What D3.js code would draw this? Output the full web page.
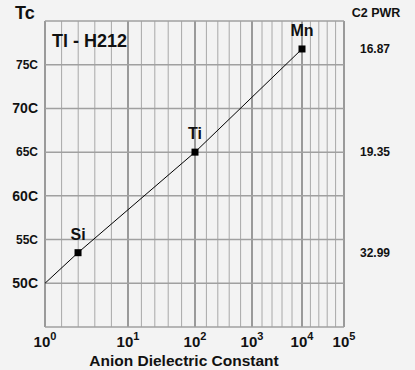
<!DOCTYPE html>
<html><head><meta charset="utf-8">
<script src="https://cdn.jsdelivr.net/npm/d3@7"></script>
<style>
html,body{margin:0;padding:0;background:#f3f3f3;}
svg{display:block;font-family:"Liberation Sans",Arial,sans-serif;font-weight:bold;}
</style></head><body>
<svg id="chart" width="415" height="370"></svg>
<script>
// ---- data ----
const elements = ["Si", "Ti", "Mn"];
const dielectric = [2.5, 100, 10000];
const tcValues = [53.5, 65, 76.8];
const c2pwr = ["32.99", "19.35", "16.87"];
const lineX = [1, 2.5, 100, 10000];
const lineY = [50, 53.5, 65, 76.8];
const decades = [0, 1, 2, 3, 4, 5];
const yTicks = [50, 55, 60, 65, 70, 75];
const yTickLabels = ["50C", "55C", "60C", "65C", "70C", "75C"];
const title = "Tl - H212";
const yTitle = "Tc";
const xTitle = "Anion Dielectric Constant";
const rightTitle = "C2 PWR";

// ---- layout ----
const svg = d3.select("#chart");
const pLeft = 45, pRight = 344, pTop = 21, pBottom = 327;
// piecewise decade scale (the original chart has unequal decade widths)
const decadeScale = d3.scaleLinear().domain(decades).range([45, 128, 195, 252, 302, 344]);
const xPos = v => decadeScale(Math.log10(v));
const yScale = d3.scaleLinear().domain([45, 80]).range([pBottom, pTop]);

svg.append("rect").attr("x", 0).attr("y", 0).attr("width", 415).attr("height", 370).attr("fill", "#f3f3f3");

// vertical grid: 5 equal subdivisions per decade
const vGrid = [];
for (let d = 0; d < 5; d++) for (let k = 0; k < 5; k++) vGrid.push(d + k / 5);
vGrid.push(5);
svg.append("g").selectAll("line").data(vGrid).join("line")
  .attr("x1", d => decadeScale(d)).attr("x2", d => decadeScale(d))
  .attr("y1", pTop).attr("y2", pBottom)
  .attr("stroke", d => Number.isInteger(d) ? "#9a9a9a" : "#a8a8a8")
  .attr("stroke-width", d => Number.isInteger(d) ? 2 : 1);

// horizontal grid
const hGrid = d3.range(45, 81, 5);
svg.append("g").selectAll("line").data(hGrid).join("line")
  .attr("x1", pLeft).attr("x2", pRight)
  .attr("y1", d => yScale(d)).attr("y2", d => yScale(d))
  .attr("stroke", "#a0a0a0").attr("stroke-width", 1.5);

// y tick labels
svg.append("g").selectAll("text").data(yTicks).join("text")
  .attr("x", 38).attr("y", d => yScale(d)).attr("dy", "0.36em")
  .attr("text-anchor", "end")
  .attr("font-size", d => d % 10 === 0 ? 14 : 12)
  .attr("fill", "#111")
  .text((d, i) => yTickLabels[i]);

// x tick labels 10^n
const xt = svg.append("g").selectAll("text").data(decades).join("text")
  .attr("x", d => decadeScale(d)).attr("y", 347)
  .attr("text-anchor", "middle").attr("font-size", 15).attr("fill", "#111");
xt.append("tspan").text("10");
xt.append("tspan").attr("dy", -7).attr("font-size", 11).text(d => d);

// axis titles
svg.append("text").attr("x", 184).attr("y", 366).attr("text-anchor", "middle")
  .attr("font-size", 15.5).attr("fill", "#111").text(xTitle);
svg.append("text").attr("x", 15).attr("y", 19).attr("font-size", 18).attr("fill", "#111").text(yTitle);
svg.append("text").attr("x", 376).attr("y", 17).attr("text-anchor", "middle")
  .attr("font-size", 12.5).attr("fill", "#111").text(rightTitle);
svg.append("text").attr("x", 52).attr("y", 47).attr("font-size", 18).attr("fill", "#111").text(title);

// line
const line = d3.line().x(d => xPos(d[0])).y(d => yScale(d[1]));
svg.append("path").datum(lineX.map((v, i) => [v, lineY[i]]))
  .attr("d", line).attr("fill", "none").attr("stroke", "#000").attr("stroke-width", 1);

// markers
svg.append("g").selectAll("rect").data(elements).join("rect")
  .attr("x", (d, i) => xPos(dielectric[i]) - 3.5).attr("y", (d, i) => yScale(tcValues[i]) - 3.5)
  .attr("width", 7).attr("height", 7).attr("fill", "#000");

// point labels
svg.append("g").selectAll("text").data(elements).join("text")
  .attr("x", (d, i) => xPos(dielectric[i])).attr("y", (d, i) => yScale(tcValues[i]) - 13)
  .attr("text-anchor", "middle").attr("font-size", 16).attr("fill", "#111").text(d => d);

// right labels
svg.append("g").selectAll("text").data(c2pwr).join("text")
  .attr("x", 375).attr("y", (d, i) => yScale(tcValues[i])).attr("dy", "0.36em")
  .attr("text-anchor", "middle").attr("font-size", 12).attr("fill", "#111").text(d => d);
</script>
</body></html>
